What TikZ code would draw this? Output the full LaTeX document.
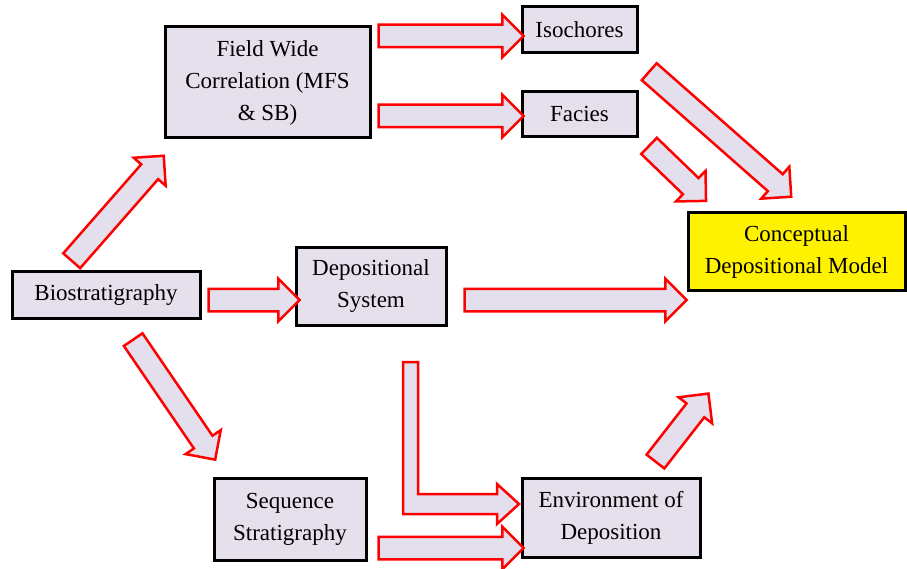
\documentclass[tikz,border=0pt]{standalone}
\usepackage{fontspec}
\setmainfont{Liberation Serif}
\usetikzlibrary{calc, shapes.arrows}

\definecolor{boxfill}{HTML}{E6E0EC}
\definecolor{arrowfill}{HTML}{E4DFEC}

\tikzset{
  box/.style={draw=black, line width=3pt, fill=boxfill, align=center, inner sep=1pt,
    font=\fontsize{23}{32}\selectfont},
  modelbox/.style={box, fill=yellow},
  barrow/.style={single arrow, draw=red, line width=2.5pt, fill=arrowfill,
    inner xsep=0pt, inner ysep=10pt, single arrow head extend=10pt,
    single arrow tip angle=90, sloped, allow upside down},
}

\newcommand{\blockarrow}[2]{%
  \path let \p1 = ($(#2)-(#1)$), \n1 = {veclen(\x1,\y1)} in
    (#1) -- (#2) node[barrow, midway, minimum height=\n1] {};
}

\begin{document}
\begin{tikzpicture}[x=1pt, y=-1pt]
    \useasboundingbox (0,0) rectangle (907,569);

    \node[box, minimum width=205, minimum height=111] (field) at (267.5, 82.5) {Field Wide\\Correlation (MFS\\\& SB)};
    \node[box, minimum width=115, minimum height=46] (iso) at (579.5, 30) {Isochores};
    \node[box, minimum width=115, minimum height=45] (facies) at (579.5, 114.5) {Facies};
    \node[box, minimum width=188, minimum height=46] (bio) at (106, 295) {Biostratigraphy};
    \node[box, minimum width=150, minimum height=77] (depsys) at (371, 286.5) {Depositional\\System};
    \node[modelbox, minimum width=217, minimum height=77] (model) at (796.5, 251.5) {Conceptual\\Depositional Model};
    \node[box, minimum width=152, minimum height=82] (seq) at (290, 519) {Sequence\\Stratigraphy};
    \node[box, minimum width=178, minimum height=79] (env) at (611, 517.5) {Environment of\\Deposition};

    % arrow ends
    \coordinate (fi1) at (373, 36);   \coordinate (fi2) at (518, 36);
    \coordinate (ff1) at (373, 116);  \coordinate (ff2) at (518, 116);
    \coordinate (bf1) at (68, 265);   \coordinate (bf2) at (160, 160);
    \coordinate (bd1) at (203, 300);  \coordinate (bd2) at (294, 300);
    \coordinate (bs1) at (130, 335);  \coordinate (bs2) at (212, 455);
    \coordinate (dm1) at (459, 300);  \coordinate (dm2) at (681, 300);
    \coordinate (im1) at (645, 68);   \coordinate (im2) at (787, 193);
    \coordinate (fm1) at (645, 142);  \coordinate (fm2) at (702, 197);
    \coordinate (em1) at (652, 466);  \coordinate (em2) at (705, 398);
    \coordinate (se1) at (373, 548);  \coordinate (se2) at (518, 548);

    \blockarrow{fi1}{fi2}
    \blockarrow{ff1}{ff2}
    \blockarrow{bf1}{bf2}
    \blockarrow{bd1}{bd2}
    \blockarrow{bs1}{bs2}
    \blockarrow{dm1}{dm2}
    \blockarrow{im1}{im2}
    \blockarrow{fm1}{fm2}
    \blockarrow{em1}{em2}
    \blockarrow{se1}{se2}

    % bent arrow from depositional system to environment
    \draw[draw=red, line width=2.5pt, fill=arrowfill]
        (403,362) -- (418,362) -- (418,494) -- (497,494) -- (497,484)
        -- (519,504) -- (497,524) -- (497,514) -- (403,514) -- cycle;
\end{tikzpicture}
\end{document}
